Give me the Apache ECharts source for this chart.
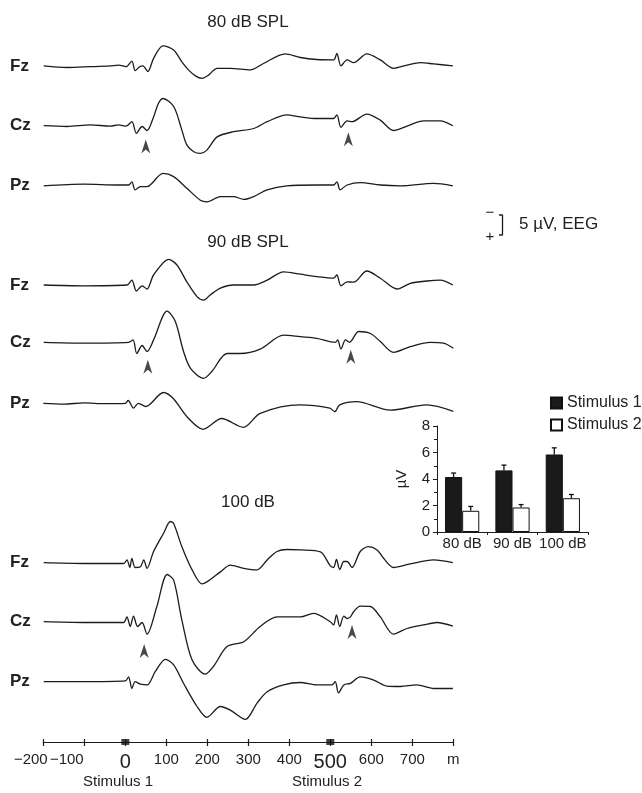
<!DOCTYPE html>
<html><head><meta charset="utf-8">
<script src="https://cdn.jsdelivr.net/npm/echarts@6/dist/echarts.min.js"></script>
<style>html,body{margin:0;padding:0;background:#fff}#c{width:642px;height:793px}</style>
</head><body><div id="c"></div>
<script>
// ---------- DATA (time in ms, amplitude in µV; negative plotted up) ----------
const fz80 = [[-199,-0.2],[-142,0.2],[-85,0],[-37,-0.2],[-16,-0.4],[2,0],[16,-1.4],[24,1.0],[35,0],[43,-0.2],[55,1.2],[69,-2.1],[92,-5.2],[118,-4.2],[138,-1.2],[154,0.8],[171,2.3],[187,2.9],[203,2.1],[224,0.4],[256,0.4],[305,0.8],[337,-0.8],[390,-3.2],[427,-2.3],[467,-1.8],[508,-1.7],[516,-3.3],[526,-0.2],[541,-1.7],[557,-1.0],[589,-3.2],[622,-1.7],[654,0.4],[687,-0.4],[720,-1.0],[752,-0.7],[799,-0.2]];
const cz80 = [[-199,0],[-142,0.2],[-85,-0.2],[-37,0.1],[-16,-0.2],[2,0.1],[16,-1.0],[27,1.9],[41,0.2],[53,1.2],[69,-2.2],[81,-5.6],[92,-6.8],[118,-4.8],[138,1.1],[150,4.8],[167,6.5],[183,6.9],[199,6.1],[224,2.8],[264,1.5],[313,0.7],[346,-1.0],[394,-2.7],[427,-2.2],[467,-1.8],[508,-1.8],[516,-2.7],[526,0.4],[541,-1.2],[553,-1.0],[589,-2.9],[622,-1.4],[654,1.2],[687,0.1],[728,-1.2],[768,-1.2],[799,0]];
const pz80 = [[-199,0.2],[-102,-0.2],[-16,0],[8,0],[16,-0.8],[24,1.2],[37,0.4],[53,0.4],[92,-2.9],[118,-2.1],[150,0.8],[183,3.8],[199,4.2],[232,2.9],[264,2.9],[289,3.6],[313,2.9],[346,1.2],[394,0.2],[467,0],[508,0],[516,-0.8],[524,1.2],[541,0],[573,-0.6],[622,0],[671,0.2],[752,-0.4],[799,0.2]];

const fz90 = [[-199,0],[-102,0.2],[4,0],[16,-1.2],[27,1.5],[41,0.2],[53,1.0],[69,-2.5],[106,-6.4],[126,-5.0],[150,-0.8],[175,2.9],[191,3.8],[207,2.5],[232,0.8],[264,0],[313,0],[346,-1.2],[386,-3.3],[427,-2.7],[467,-2.1],[508,-1.7],[516,-2.5],[526,0.2],[541,-0.8],[557,-0.7],[589,-3.5],[622,-1.7],[663,1.0],[695,-0.4],[736,-1.0],[768,-1.2],[799,0]];
const cz90 = [[-199,0],[-102,0.2],[8,0],[19,-0.6],[28,2.8],[41,0.8],[53,2.3],[69,-0.6],[102,-7.8],[122,-5.2],[142,2.3],[159,6.5],[191,9.0],[211,7.3],[248,2.8],[280,2.8],[329,1.7],[386,-1.8],[427,-1.4],[467,-1.0],[512,0],[518,-0.6],[526,1.7],[537,-0.6],[547,0],[569,-2.7],[598,-2.2],[622,-0.2],[654,2.5],[695,1.1],[744,0],[776,0.2],[800,1.5]];
const pz90 = [[-200,0],[-150,0.2],[-100,-0.1],[-50,0.1],[0,0],[7,-0.7],[20,1.2],[32,0],[50,0.8],[93,-2.7],[117,-1.2],[150,3.3],[190,6.5],[235,3.8],[288,6.0],[329,2.5],[426,0.4],[499,1.2],[511,2.1],[523,0.4],[564,-0.4],[646,1.7],[735,0.4],[800,2.0]];

const fz100 = [[-199,0],[-102,0.2],[-4,0.2],[4,-0.7],[11,1.2],[16,-1.1],[24,1.2],[37,1.0],[45,-0.7],[53,1.4],[69,-2.8],[93,-7.3],[110,-10.3],[118,-9.8],[138,-4.0],[163,1.8],[187,5.3],[199,4.8],[232,2.3],[256,0.6],[289,1.4],[321,1.8],[346,-0.7],[370,-2.8],[394,-3.3],[427,-3.2],[476,-2.7],[500,0.8],[508,1.2],[515,-0.8],[523,1.7],[533,-0.3],[541,-0.3],[553,1.2],[573,-2.8],[593,-4.0],[614,-3.2],[630,-1.1],[654,1.2],[695,0.3],[752,-0.7],[799,0]];
const cz100 = [[-199,0],[-102,0.2],[-4,0.2],[4,-1.2],[12,1.2],[20,-1.4],[30,1.2],[41,0.2],[53,3.1],[77,-3.8],[102,-11.8],[118,-10.4],[138,-0.4],[163,9.6],[195,13.1],[215,11.2],[248,6.2],[289,5.0],[329,1.2],[370,-1.2],[427,-1.2],[459,-2.1],[500,0],[508,0.8],[515,-1.7],[523,1.2],[533,-1.4],[541,-0.8],[549,-1.2],[557,-2.5],[573,-3.9],[598,-3.8],[622,-1.2],[654,3.1],[687,1.7],[728,0.8],[760,0.2],[799,1.1]];
const pz100 = [[-199,0],[-102,0],[0,-0.2],[8,-1.2],[16,1.7],[24,0],[37,0.6],[53,0.8],[73,-2.5],[98,-5.6],[118,-4.2],[142,0.4],[175,6.2],[199,8.9],[232,6.2],[256,7.1],[293,9.4],[321,5.4],[346,2.5],[386,0.8],[427,0.2],[467,0.8],[504,0.8],[512,0],[520,2.8],[533,0.8],[549,0.4],[573,-1.2],[606,-0.4],[638,1.1],[671,1.2],[711,0.8],[752,1.7],[799,1.7]];

const arrows80 = [[50,5.2],[544,3.4]];
const arrows90 = [[55,6.1],[550,3.6]];
const arrows100 = [[46,7.3],[553,2.6]];

const conditionTitles = ['80 dB SPL','90 dB SPL','100 dB'];
const electrodes = ['Fz','Cz','Pz'];
const stimOnsets = [0, 500];
const stimNames = ['Stimulus 1','Stimulus 2'];

const barCats = ['80 dB','90 dB','100 dB'];
const stim1Mean = [4.15, 4.65, 5.85];
const stim1Err  = [0.3, 0.4, 0.5];
const stim2Mean = [1.6, 1.85, 2.55];
const stim2Err  = [0.33, 0.22, 0.28];
const scaleBarUV = 5;

// ---------- LAYOUT ----------
const FONT = '"Liberation Sans", Arial, Helvetica, sans-serif';
const INK = '#1c1c1c';
const TXT = '#222';
const traceData = [fz80, cz80, pz80, fz90, cz90, pz90, fz100, cz100, pz100];
const baseY = [66.7,125.7,185, 285,342.3,403.3, 562.7,621.7,681.7];
const PX_PER_UV = 4, HALF = 14;
const PLOT_LEFT = 43.3, PLOT_W = 410;

const grids = [], xAxes = [], yAxes = [], series = [];
traceData.forEach((d, i) => {
  grids.push({left: PLOT_LEFT, width: PLOT_W, top: baseY[i] - HALF * PX_PER_UV, height: 2 * HALF * PX_PER_UV});
  xAxes.push({gridIndex: i, type: 'value', min: -200, max: 800, show: false});
  yAxes.push({gridIndex: i, type: 'value', min: -HALF, max: HALF, inverse: true, show: false});
  series.push({type: 'line', xAxisIndex: i, yAxisIndex: i, data: d, symbol: 'none', smooth: 0.3,
    lineStyle: {color: INK, width: 1.3}, silent: true, clip: false, z: 2});
});
const arrowPath = 'path://M5 0 L10 14 L5 10 L0 14 Z';
[[1, arrows80], [4, arrows90], [7, arrows100]].forEach(([gi, a]) => {
  series.push({type: 'scatter', xAxisIndex: gi, yAxisIndex: gi, data: a, symbol: arrowPath, symbolSize: [9, 14],
    itemStyle: {color: INK}, silent: true, clip: false, z: 3});
});

// time axis grid (grid 9, xAxis 9 & 10, yAxis 9)
grids.push({left: PLOT_LEFT, width: PLOT_W, top: 700, height: 42});
const timeFmt = v => {
  if (v === 800) return 'm';
  if (v === 0) return '{big|0}';
  if (v === 500) return '{big|500}';
  if (v === -200) return '{n2|\u2212200}';
  if (v === -100) return '{n1|\u2212100}';
  return String(v);
};
xAxes.push({gridIndex: 9, type: 'value', min: -200, max: 800, interval: 100, position: 'bottom',
  axisLine: {show: true, onZero: false, lineStyle: {color: INK, width: 1.2}},
  axisTick: {show: true, length: 4, lineStyle: {color: INK, width: 1.2}},
  splitLine: {show: false},
  axisLabel: {show: true, margin: 10, fontSize: 15, color: TXT, fontFamily: FONT, showMinLabel: true, showMaxLabel: true,
    formatter: timeFmt,
    rich: {
      big: {fontSize: 20, color: TXT, fontFamily: FONT},
      n2: {fontSize: 15, color: TXT, fontFamily: FONT, padding: [0, 25, 0, 0]},
      n1: {fontSize: 15, color: TXT, fontFamily: FONT, padding: [0, 35, 0, 0]}
    }}
});
xAxes.push({gridIndex: 9, type: 'value', min: -200, max: 800, interval: 100, position: 'bottom',
  axisLine: {show: false, onZero: false}, axisLabel: {show: false}, splitLine: {show: false},
  axisTick: {show: true, inside: true, length: 3, lineStyle: {color: INK, width: 1.2}}});
yAxes.push({gridIndex: 9, type: 'value', min: 0, max: 1, show: false});
series.push({type: 'scatter', xAxisIndex: 9, yAxisIndex: 9, data: stimOnsets.map(t => [t, 0]),
  symbol: 'rect', symbolSize: [8, 6], itemStyle: {color: '#111'}, silent: true, clip: false, z: 50, zlevel: 1});

// inset bar chart (grid 10, xAxis 11, yAxis 10)
grids.push({left: 437, top: 426, width: 151, height: 106});
xAxes.push({gridIndex: 10, type: 'category', data: barCats,
  axisLine: {show: true, lineStyle: {color: INK, width: 1}},
  axisTick: {show: true, length: 3, lineStyle: {color: INK}},
  axisLabel: {fontSize: 15, margin: 4, color: TXT, fontFamily: FONT, interval: 0},
  splitLine: {show: false}});
yAxes.push({gridIndex: 10, type: 'value', min: 0, max: 8, interval: 2,
  axisLine: {show: true, lineStyle: {color: INK, width: 1}},
  axisTick: {show: true, length: 4, lineStyle: {color: INK}},
  minorTick: {show: true, splitNumber: 2, length: 3, lineStyle: {color: INK}},
  splitLine: {show: false}, minorSplitLine: {show: false},
  axisLabel: {fontSize: 15, margin: 7, color: TXT, fontFamily: FONT},
  name: '\u00b5V', nameLocation: 'middle', nameGap: 28, nameRotate: 90,
  nameTextStyle: {fontSize: 15, color: TXT, fontFamily: FONT}});
series.push({name: stimNames[0], type: 'bar', xAxisIndex: 11, yAxisIndex: 10, data: stim1Mean, barWidth: '34%', barGap: '0%',
  itemStyle: {color: '#1a1a1a', borderColor: '#111', borderWidth: 1}, silent: true, z: 2});
series.push({name: stimNames[1], type: 'bar', xAxisIndex: 11, yAxisIndex: 10, data: stim2Mean, barWidth: '34%', barGap: '0%',
  itemStyle: {color: '#ffffff', borderColor: '#111', borderWidth: 1}, silent: true, z: 2});
const errData = [];
stim1Mean.forEach((m, i) => errData.push([i, m, stim1Err[i], -1]));
stim2Mean.forEach((m, i) => errData.push([i, m, stim2Err[i], 1]));
series.push({type: 'custom', xAxisIndex: 11, yAxisIndex: 10, data: errData, encode: {x: 0, y: 1}, silent: true, z: 4,
  renderItem: (params, api) => {
    const cat = api.value(0), v = api.value(1), e = api.value(2), side = api.value(3);
    const base = api.coord([cat, v]);
    const top = api.coord([cat, v + e]);
    const bw = api.size([1, 0])[0] * 0.34;
    const x = base[0] + side * bw / 2;
    const st = {stroke: '#111', lineWidth: 1.3};
    return {type: 'group', children: [
      {type: 'line', shape: {x1: x, y1: base[1], x2: x, y2: top[1]}, style: st},
      {type: 'line', shape: {x1: x - 2.5, y1: top[1], x2: x + 2.5, y2: top[1]}, style: st}
    ]};
  }});

// scale bar (grid 11, xAxis 12, yAxis 11)
grids.push({left: 499, top: 215, width: 3.5, height: scaleBarUV * PX_PER_UV});
xAxes.push({gridIndex: 11, type: 'value', min: 0, max: 1, show: false});
yAxes.push({gridIndex: 11, type: 'value', min: 0, max: scaleBarUV, show: false});
series.push({type: 'line', xAxisIndex: 12, yAxisIndex: 11, data: [[0, 0], [1, 0], [1, scaleBarUV], [0, scaleBarUV]],
  symbol: 'none', lineStyle: {color: INK, width: 1.3}, clip: false, silent: true});

// ---------- TEXT ----------
const graphic = [];
const mk = (text, x, y, font, align) => ({type: 'text', silent: true,
  style: {text, x, y, font, fill: TXT, textAlign: align, textVerticalAlign: 'middle', align, verticalAlign: 'middle'}});
const titleY = [22, 242, 502];
conditionTitles.forEach((t, k) => graphic.push(mk(t, 248, titleY[k], '17px ' + FONT, 'center')));
baseY.forEach((y, i) => graphic.push(mk(electrodes[i % 3], 10, y, 'bold 17px ' + FONT, 'left')));
const stimLabelX = [118, 327];
stimNames.forEach((s, k) => graphic.push(mk(s, stimLabelX[k], 782, '15px ' + FONT, 'center')));
graphic.push(mk(scaleBarUV + ' \u00b5V, EEG', 519, 224, '17px ' + FONT, 'left'));
graphic.push(mk('\u2212', 490, 213, '15px ' + FONT, 'center'));
graphic.push(mk('+', 490, 237, '15px ' + FONT, 'center'));

const chart = echarts.init(document.getElementById('c'), null, {renderer: 'canvas'});
chart.setOption({
  animation: false,
  backgroundColor: '#ffffff',
  textStyle: {fontFamily: FONT},
  grid: grids, xAxis: xAxes, yAxis: yAxes, series: series,
  legend: {data: stimNames, orient: 'vertical', left: 545, top: 390, itemWidth: 11, itemHeight: 11, itemGap: 6, icon: 'rect',
    textStyle: {fontSize: 16, color: TXT, fontFamily: FONT}, selectedMode: false},
  graphic: graphic
});
</script></body></html>
